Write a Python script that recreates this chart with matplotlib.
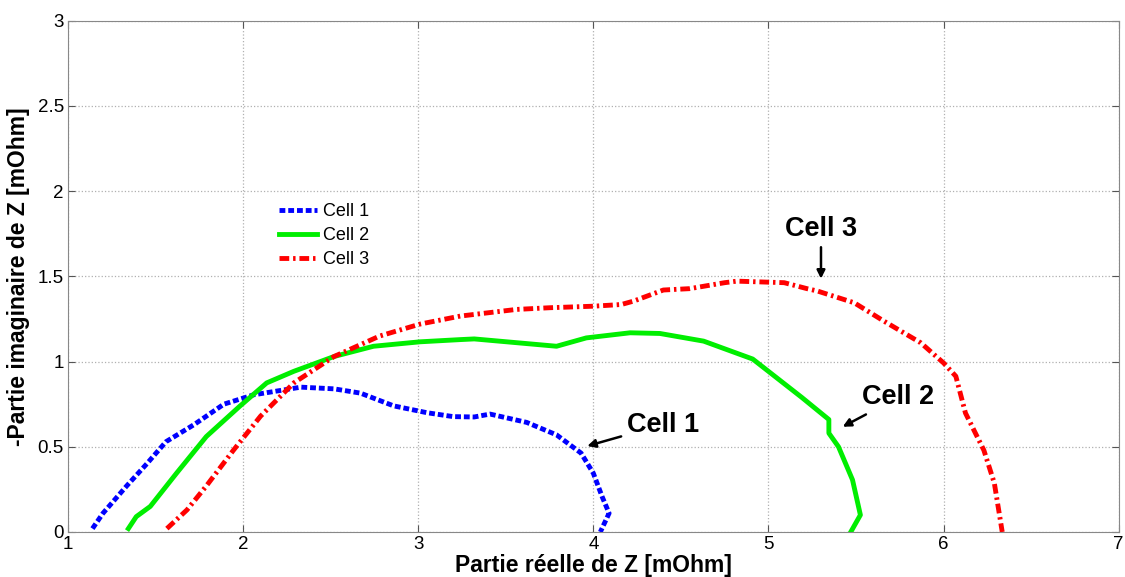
import matplotlib.pyplot as plt

plt.rcParams['font.family'] = ['Liberation Sans', 'DejaVu Sans']

cell1_re = [1.14, 1.20, 1.335, 1.45, 1.56, 1.72, 1.89, 2.06, 2.33, 2.52, 2.67,
            2.86, 3.05, 3.20, 3.32, 3.41, 3.62, 3.79, 3.93, 4.00, 4.05, 4.09, 4.04]
cell1_im = [0.02, 0.11, 0.27, 0.40, 0.53, 0.63, 0.75, 0.805, 0.85, 0.84, 0.815,
            0.74, 0.70, 0.677, 0.675, 0.692, 0.643, 0.57, 0.463, 0.345, 0.208, 0.11, 0.0]

cell2_re = [1.345, 1.39, 1.47, 1.62, 1.79, 1.98, 2.135, 2.29, 2.52, 2.745, 3.01,
            3.24, 3.32, 3.79, 3.96, 4.21, 4.38, 4.63, 4.91, 5.19, 5.345, 5.345,
            5.40, 5.48, 5.525, 5.47]
cell2_im = [0.02, 0.09, 0.15, 0.345, 0.56, 0.737, 0.875, 0.943, 1.03, 1.09, 1.116,
            1.129, 1.133, 1.09, 1.139, 1.169, 1.165, 1.12, 1.015, 0.79, 0.66, 0.58,
            0.50, 0.306, 0.10, 0.0]

cell3_re = [1.565, 1.68, 1.79, 1.945, 2.10, 2.29, 2.52, 2.78, 3.01, 3.24, 3.56,
            3.75, 4.00, 4.16, 4.23, 4.40, 4.55, 4.75, 4.82, 5.09, 5.22, 5.28,
            5.49, 5.66, 5.87, 6.00, 6.07, 6.125, 6.23, 6.29, 6.335]
cell3_im = [0.02, 0.13, 0.27, 0.48, 0.68, 0.875, 1.03, 1.15, 1.22, 1.267, 1.306,
            1.316, 1.325, 1.335, 1.355, 1.42, 1.428, 1.463, 1.472, 1.463, 1.428, 1.414,
            1.345, 1.237, 1.11, 0.992, 0.914, 0.698, 0.48, 0.286, 0.0]

fig = plt.figure(figsize=(11.25, 5.77), dpi=100)
ax = fig.add_axes([0.0604, 0.078, 0.934, 0.886])

ax.plot(cell1_re, cell1_im, color='#0000ff', lw=3.5, linestyle=(0, (1.2, 0.6)), label='Cell 1')
ax.plot(cell2_re, cell2_im, color='#00ee00', lw=3.5, linestyle='-', label='Cell 2')
ax.plot(cell3_re, cell3_im, color='#ff0000', lw=3.5, linestyle=(0, (2.0, 0.8, 0.5, 0.8)), label='Cell 3')

ax.set_xlim(1, 7)
ax.set_ylim(0, 3)
ax.set_xticks([1, 2, 3, 4, 5, 6, 7])
ax.set_yticks([0, 0.5, 1, 1.5, 2, 2.5, 3])
ax.set_yticklabels(['0', '0.5', '1', '1.5', '2', '2.5', '3'])
ax.grid(True, linestyle=':', color='#b0b0b0', lw=0.9)
ax.tick_params(direction='in', labelsize=13.5, color='#555555', length=5, top=True, right=True, pad=3)
for s in ax.spines.values():
    s.set_color('#888888')

ax.set_xlabel('Partie réelle de Z [mOhm]', fontsize=16.5, fontweight='bold')
ax.set_ylabel('-Partie imaginaire de Z [mOhm]', fontsize=16.5, fontweight='bold')
ax.xaxis.set_label_coords(0.5, -0.043)
ax.yaxis.set_label_coords(-0.036, 0.5)

ax.legend(loc='upper left', bbox_to_anchor=(0.185, 0.675), frameon=False, fontsize=13,
          handlelength=2.1, handletextpad=0.35, labelspacing=0.38)

arrow = dict(arrowstyle='-|>', color='black', lw=1.8, mutation_scale=12)
ax.annotate('Cell 1', xy=(3.95, 0.5), xytext=(4.19, 0.63), fontsize=19.5, fontweight='bold',
            va='center', ha='left', arrowprops=arrow)
ax.annotate('Cell 2', xy=(5.41, 0.61), xytext=(5.535, 0.79), fontsize=19.5, fontweight='bold',
            va='center', ha='left', arrowprops=arrow)
ax.annotate('Cell 3', xy=(5.3, 1.47), xytext=(5.3, 1.78), fontsize=19.5, fontweight='bold',
            va='center', ha='center', arrowprops=arrow)

fig.savefig('out.png', dpi=100)
